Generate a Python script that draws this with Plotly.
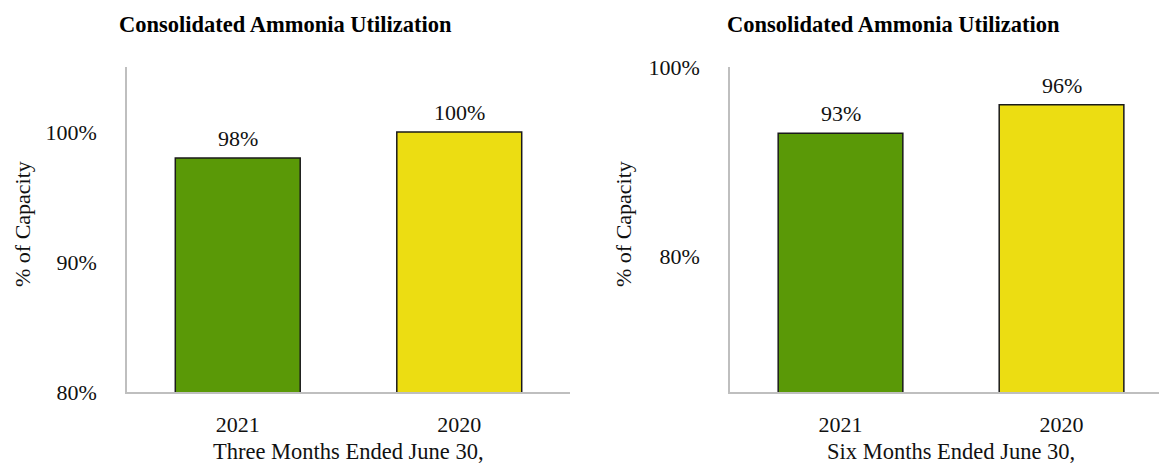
import plotly.graph_objects as go

# Ammonia plant utilization, % of capacity
years = ["2021", "2020"]
three_month_util = [98, 100]
six_month_util = [93, 96]
bar_colors = ["#5a9907", "#ecdd12"]

chart_title = "Consolidated Ammonia Utilization"
y_title = "% of Capacity"
left_x_title = "Three Months Ended June 30,"
right_x_title = "Six Months Ended June 30,"

left_ticks = [80, 90, 100]
right_ticks = [80, 100]

W, H = 1159, 466
FONT = "Liberation Serif"


def px_x(p):
    return p / W


def px_y(p):
    return 1 - p / H


fig = go.Figure()

fig.add_trace(go.Bar(
    x=years, y=three_month_util, xaxis="x", yaxis="y",
    width=0.564, marker=dict(color=bar_colors, line=dict(color="#1a1a1a", width=1.5)),
    showlegend=False, hoverinfo="skip",
))
fig.add_trace(go.Bar(
    x=years, y=six_month_util, xaxis="x2", yaxis="y2",
    width=0.564, marker=dict(color=bar_colors, line=dict(color="#1a1a1a", width=1.5)),
    showlegend=False, hoverinfo="skip",
))

axis_common = dict(
    showgrid=False, zeroline=False, showline=True, linecolor="#bfbfbf", linewidth=1.5,
    ticks="", tickfont=dict(family=FONT, size=22, color="#111111"), automargin=False,
    fixedrange=True,
)

top_px, bottom_px = 67, 392
y_dom = [px_y(bottom_px), px_y(top_px)]

fig.update_layout(
    width=W, height=H,
    margin=dict(l=0, r=0, t=0, b=0),
    paper_bgcolor="white", plot_bgcolor="white",
    font=dict(family=FONT, color="#111111"),
    xaxis=dict(type="category", domain=[px_x(127), px_x(570)], range=[-0.5, 1.5], anchor="y",
               ticklabelstandoff=12, **axis_common),
    yaxis=dict(domain=y_dom, range=[80, 105], anchor="x", tickvals=left_ticks,
               ticktext=[f"{v}%" for v in left_ticks], ticklabelstandoff=24, **axis_common),
    xaxis2=dict(type="category", domain=[px_x(730), 1.0], range=[-0.5, 1.441], anchor="y2",
                ticklabelstandoff=12, **axis_common),
    yaxis2=dict(domain=y_dom, range=[65.6, 100], anchor="x2", tickvals=right_ticks,
                ticktext=[f"{v}%" for v in right_ticks], ticklabelstandoff=24, **axis_common),
)

annotations = []

# value labels above each bar (category index positions)
for xa, ya, vals in (("x", "y", three_month_util), ("x2", "y2", six_month_util)):
    for i, v in enumerate(vals):
        annotations.append(dict(
            x=i, y=v, xref=xa, yref=ya, text=f"{v}%", showarrow=False,
            yanchor="bottom", yshift=5, font=dict(family=FONT, size=22, color="#111111"),
        ))

# chart titles
for x0 in (117, 725):
    annotations.append(dict(
        x=px_x(x0), y=px_y(25), xref="paper", yref="paper", xanchor="left", yanchor="middle",
        text=f"<b>{chart_title}</b>", showarrow=False,
        font=dict(family=FONT, size=22.5, color="#000000"),
    ))

# x-axis titles
for xc, txt in ((348.5, left_x_title), (951, right_x_title)):
    annotations.append(dict(
        x=px_x(xc), y=px_y(451), xref="paper", yref="paper", xanchor="center", yanchor="middle",
        text=txt, showarrow=False, font=dict(family=FONT, size=22.5, color="#111111"),
    ))

# y-axis titles
for xc in (23, 624):
    annotations.append(dict(
        x=px_x(xc), y=px_y(224), xref="paper", yref="paper", xanchor="center", yanchor="middle",
        text=y_title, textangle=-90, showarrow=False,
        font=dict(family=FONT, size=22, color="#111111"),
    ))

fig.update_layout(annotations=annotations)

fig.write_html("out.html")
